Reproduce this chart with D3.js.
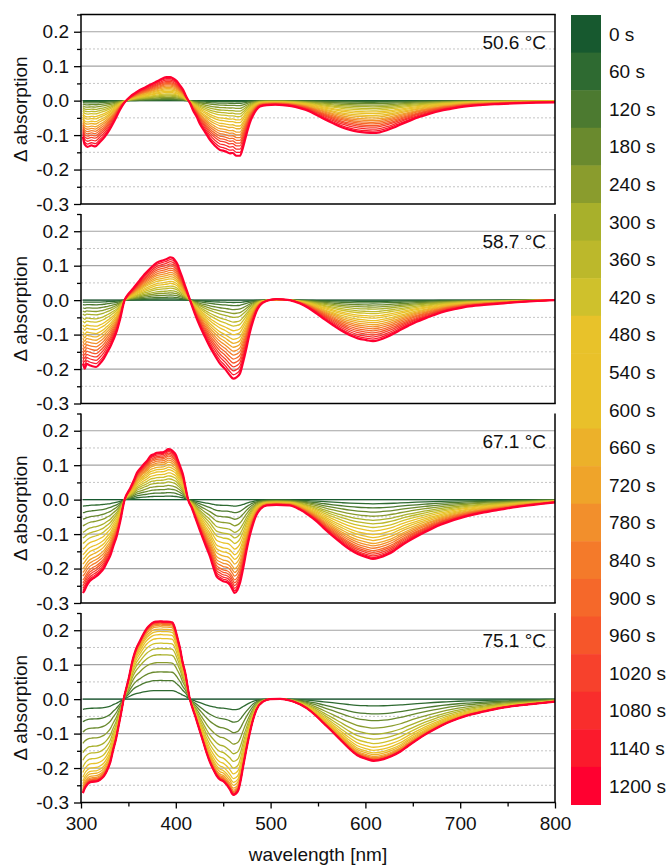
<!DOCTYPE html>
<html>
<head>
<meta charset="utf-8">
<script src="https://cdn.jsdelivr.net/npm/d3@7"></script>
<style>
  html, body { margin: 0; padding: 0; background: #fff; }
  svg { display: block; font-family: "Liberation Sans", Arial, sans-serif; }
</style>
</head>
<body>
<svg id="chart" width="671" height="868"></svg>
<script>
// Time points of the series (one spectrum per minute)
const timeLabels = ["0 s","60 s","120 s","180 s","240 s","300 s","360 s","420 s","480 s","540 s","600 s",
  "660 s","720 s","780 s","840 s","900 s","960 s","1020 s","1080 s","1140 s","1200 s"];
const timeColors = ["#17592f","#2e6a31","#4c7a30","#6a8a2e","#8a9c2d","#a8b02b","#bcb82b","#cfc12c",
  "#e8c22a","#e9c12a","#e9c02a","#ecb12a","#efa42a","#f28f2c","#f47a2a","#f5682a","#f6562a",
  "#f7412c","#f92d2c","#fb1a2c","#ff0030"];

const temperatures = ["50.6 °C", "58.7 °C", "67.1 °C", "75.1 °C"];

// Difference spectra after 1200 s, per temperature: wavelength [nm] and Δ absorption
const wl506 = [302,304,307,311,315,320,325,330,336,341,346,352,357,362,368,373,378,383,390,394,397,401,404,408,411,415,418,422,425.5,431,436,441,446.6,450,453,457,460,464,467.7,471,474.8,478,481.7,485,488.8,495.9,505,513,522,531,540,548.6,557,566,575,583.8,592,601,608,615,622.5,630,636.5,647,657.6,668,678.7,690,700,721,740,756,780,800];
const abs506 = [-0.105,-0.128,-0.134,-0.13,-0.133,-0.12,-0.105,-0.085,-0.055,-0.027,-0.005,0.012,0.022,0.031,0.039,0.046,0.053,0.06,0.068,0.068,0.065,0.057,0.046,0.03,0.012,-0.008,-0.027,-0.047,-0.068,-0.092,-0.114,-0.13,-0.143,-0.145,-0.148,-0.153,-0.152,-0.16,-0.16,-0.135,-0.095,-0.065,-0.042,-0.027,-0.017,-0.013,-0.012,-0.013,-0.016,-0.022,-0.03,-0.042,-0.054,-0.066,-0.077,-0.085,-0.09,-0.093,-0.094,-0.092,-0.086,-0.078,-0.07,-0.058,-0.047,-0.038,-0.03,-0.024,-0.019,-0.013,-0.01,-0.008,-0.006,-0.005];

const wl587 = [302,304,306,309,312,316,320,324,327,331,334,338,341,346,350,355,362,367,373,380,387,391,394,397,399,402,404,407,409,412,415,420,425.5,431,436,441,446.6,452,457,460.7,464,467.7,471,474.8,478,481.8,485,488.8,495.9,506,520,531,540,548.6,557,566,575,583.8,592,601,608,615,622.5,630,636.5,645,654,663,671.7,680,689,698,707,725,742,760,777,800];
const abs587 = [-0.184,-0.199,-0.185,-0.189,-0.192,-0.194,-0.184,-0.17,-0.155,-0.135,-0.116,-0.088,-0.058,0,0.018,0.034,0.058,0.075,0.092,0.109,0.116,0.12,0.124,0.122,0.116,0.103,0.087,0.065,0.048,0.025,0,-0.039,-0.076,-0.108,-0.136,-0.16,-0.184,-0.2,-0.218,-0.228,-0.224,-0.213,-0.18,-0.136,-0.095,-0.058,-0.033,-0.015,-0.002,0.003,0,-0.01,-0.023,-0.039,-0.056,-0.073,-0.089,-0.102,-0.111,-0.116,-0.119,-0.115,-0.107,-0.097,-0.087,-0.075,-0.063,-0.053,-0.044,-0.036,-0.029,-0.024,-0.019,-0.014,-0.01,-0.006,-0.003,0];

const wl671 = [302,304,306,309,312,316,320,324,327,331,334,338,341,346,352,356,359,363,366,370,373,377,380,384,387,390,392,394,397,400,402,405,408,410,413,417,420,425.5,431,436,440,443,447,450,454,457,460,462,465,467.7,471,474.8,478,481.8,485,488.8,495.9,506,520,531,540,548.6,557,566,575,583.8,592,601,608,615,622.5,630,636.5,645,654,663,671.7,680,689,698,707,725,742,760,777,790,800];
const abs671 = [-0.271,-0.262,-0.25,-0.237,-0.23,-0.223,-0.213,-0.2,-0.184,-0.162,-0.136,-0.103,-0.068,0,0.034,0.058,0.078,0.092,0.102,0.114,0.126,0.132,0.136,0.137,0.138,0.143,0.147,0.146,0.14,0.13,0.116,0.094,0.068,0.04,0,-0.025,-0.048,-0.09,-0.13,-0.165,-0.2,-0.223,-0.232,-0.237,-0.24,-0.247,-0.262,-0.271,-0.262,-0.242,-0.2,-0.145,-0.105,-0.068,-0.045,-0.029,-0.017,-0.015,-0.017,-0.029,-0.045,-0.063,-0.085,-0.107,-0.127,-0.145,-0.158,-0.167,-0.172,-0.168,-0.16,-0.149,-0.136,-0.121,-0.107,-0.094,-0.082,-0.072,-0.063,-0.055,-0.048,-0.037,-0.029,-0.021,-0.015,-0.011,-0.008];

const wl751 = [302,304,306,309,312,316,320,324,327,331,334,337,339.5,342,345,350,355,358,362,366,369.6,373,376.6,380,383.7,387,390.7,394,396,398,399.5,402,404.8,407,410,414.6,420.6,425.5,429,432.6,436,439.7,443,446.7,450,453.7,457,460.7,463,466,468.5,471,474.5,478,481.5,485,492,499.5,510,524,538,547,556,565,573.6,582,591,601.7,608.7,619.3,628,637,645,654.5,663,672,681,689.7,698,707,725,742,760,777.5,790,800];
const abs751 = [-0.273,-0.259,-0.25,-0.242,-0.24,-0.239,-0.234,-0.224,-0.21,-0.182,-0.147,-0.115,-0.08,-0.045,0,0.056,0.119,0.145,0.168,0.19,0.206,0.216,0.223,0.225,0.226,0.225,0.225,0.224,0.223,0.215,0.202,0.175,0.143,0.11,0.076,0.003,-0.05,-0.094,-0.125,-0.157,-0.183,-0.205,-0.222,-0.234,-0.238,-0.249,-0.262,-0.278,-0.275,-0.264,-0.235,-0.196,-0.145,-0.099,-0.06,-0.031,-0.007,0,0.001,-0.007,-0.026,-0.046,-0.07,-0.094,-0.118,-0.141,-0.162,-0.174,-0.179,-0.174,-0.165,-0.152,-0.136,-0.118,-0.103,-0.089,-0.076,-0.065,-0.056,-0.048,-0.036,-0.026,-0.019,-0.014,-0.01,-0.007];

// Fraction of the 1200 s difference spectrum reached at each time point
const progress506 = [0,0.02,0.05,0.09,0.14,0.19,0.24,0.29,0.35,0.40,0.46,0.51,0.57,0.62,0.67,0.72,0.77,0.82,0.88,0.94,1];
const progress587 = [0,0.03,0.07,0.12,0.17,0.22,0.28,0.33,0.39,0.44,0.50,0.55,0.60,0.65,0.70,0.75,0.80,0.85,0.90,0.95,1];
const progress671 = [0,0.07,0.14,0.21,0.28,0.35,0.41,0.47,0.53,0.59,0.64,0.69,0.74,0.78,0.82,0.86,0.89,0.92,0.95,0.975,1];
const progress751 = [0,0.11,0.24,0.35,0.47,0.57,0.65,0.72,0.78,0.83,0.87,0.90,0.93,0.95,0.965,0.975,0.985,0.99,0.995,0.998,1];

const yMajor = [0.2, 0.1, 0.0, -0.1, -0.2, -0.3];
const yMinor = [0.25, 0.15, 0.05, -0.05, -0.15, -0.25];
const xMajor = [300, 400, 500, 600, 700, 800];
const xMinor = [350, 450, 550, 650, 750];

const panels = [
  { label: temperatures[0], wl: wl506, abs: abs506, progress: progress506 },
  { label: temperatures[1], wl: wl587, abs: abs587, progress: progress587 },
  { label: temperatures[2], wl: wl671, abs: abs671, progress: progress671 },
  { label: temperatures[3], wl: wl751, abs: abs751, progress: progress751 }
];

const svg = d3.select("#chart");
const left = 81, right = 555;
const panelTop0 = 14.5, panelStep = 199.5, panelH = 189.5;
const fontSize = 19;
const fontFamily = "Liberation Sans, Arial, sans-serif";
const fmt1 = d => d.toFixed(1);

const x = d3.scaleLinear().domain([300, 800]).range([left, right]);

panels.forEach((p, i) => {
  const top = panelTop0 + i * panelStep;
  const bottom = top + panelH;
  const y = d3.scaleLinear().domain([-0.3, 0.25]).range([bottom, top]);
  const g = svg.append("g");

  // grid
  g.selectAll(".gmin").data(yMinor.filter(v => v > -0.3 && v < 0.25)).join("line")
    .attr("x1", left).attr("x2", right)
    .attr("y1", d => y(d)).attr("y2", d => y(d))
    .attr("stroke", "#c4c4c4").attr("stroke-width", 1).attr("stroke-dasharray", "2,2");
  g.selectAll(".gmaj").data(yMajor.filter(v => v > -0.3)).join("line")
    .attr("x1", left).attr("x2", right)
    .attr("y1", d => y(d)).attr("y2", d => y(d))
    .attr("stroke", "#a3a3a3").attr("stroke-width", 1.2);

  // spectra, oldest first so the 1200 s trace ends on top
  const pts = p.wl.map((w, k) => [w, p.abs[k]]);
  const line = d3.line()
    .x(d => x(d[0]))
    .curve(d3.curveMonotoneX);
  const clipId = "clip" + i;
  svg.append("clipPath").attr("id", clipId).append("rect")
    .attr("x", left).attr("y", top).attr("width", right - left).attr("height", panelH);
  const curves = g.append("g").attr("clip-path", `url(#${clipId})`);
  p.progress.forEach((f, t) => {
    curves.append("path")
      .attr("d", line.y(d => y(d[1] * f))(pts))
      .attr("fill", "none")
      .attr("stroke", timeColors[t])
      .attr("stroke-width", t === p.progress.length - 1 ? 2.2 : 1.3)
      .attr("stroke-linejoin", "round");
  });

  // frame
  const frame = g.append("g").attr("stroke", "#000").attr("stroke-width", 1.5).attr("fill", "none");
  frame.append("line").attr("x1", left).attr("x2", left).attr("y1", top).attr("y2", bottom);
  frame.append("line").attr("x1", right).attr("x2", right).attr("y1", top).attr("y2", bottom);
  frame.append("line").attr("x1", left - 0.75).attr("x2", right + 0.75).attr("y1", bottom).attr("y2", bottom);
  if (i === 0) frame.append("line").attr("x1", left - 0.75).attr("x2", right + 0.75).attr("y1", top).attr("y2", top);

  // y axis
  const yAxis = d3.axisLeft(y).tickValues(yMajor).tickSize(7).tickPadding(5).tickFormat(fmt1);
  const ya = g.append("g").attr("transform", `translate(${left},0)`).call(yAxis);
  ya.select(".domain").remove();
  ya.selectAll(".tick line").attr("stroke-width", 1.3);
  ya.selectAll(".tick text").attr("font-size", fontSize).attr("font-family", fontFamily).attr("fill", "#111");
  const yMinAxis = d3.axisLeft(y).tickValues(yMinor).tickSize(4).tickFormat("");
  const ym = g.append("g").attr("transform", `translate(${left},0)`).call(yMinAxis);
  ym.select(".domain").remove();
  ym.selectAll(".tick line").attr("stroke-width", 1.3);

  g.append("text")
    .attr("transform", `translate(27,${(top + bottom) / 2}) rotate(-90)`)
    .attr("text-anchor", "middle").attr("font-size", fontSize).attr("fill", "#111")
    .text("Δ absorption");

  g.append("text")
    .attr("x", 546).attr("y", top + 34)
    .attr("text-anchor", "end").attr("font-size", fontSize).attr("fill", "#111")
    .text(p.label);

  if (i === panels.length - 1) {
    const xAxis = d3.axisBottom(x).tickValues(xMajor).tickSize(6).tickPadding(8).tickFormat(d3.format("d"));
    const xa = g.append("g").attr("transform", `translate(0,${bottom})`).call(xAxis);
    xa.select(".domain").remove();
    xa.selectAll(".tick line").attr("stroke-width", 1.3);
    xa.selectAll(".tick text").attr("font-size", fontSize).attr("font-family", fontFamily).attr("fill", "#111");
    const xMinAxis = d3.axisBottom(x).tickValues(xMinor).tickSize(4).tickFormat("");
    const xm = g.append("g").attr("transform", `translate(0,${bottom})`).call(xMinAxis);
    xm.select(".domain").remove();
    xm.selectAll(".tick line").attr("stroke-width", 1.3);

    g.append("text")
      .attr("x", (left + right) / 2).attr("y", 861)
      .attr("text-anchor", "middle").attr("font-size", fontSize).attr("fill", "#111")
      .text("wavelength [nm]");
  }
});

// colour legend for the time points
const legTop = 15, legBottom = 804.5;
const band = d3.scaleBand().domain(timeLabels).range([legTop, legBottom]).padding(0);
const leg = svg.append("g");
leg.selectAll("rect").data(timeLabels).join("rect")
  .attr("x", 571).attr("width", 30)
  .attr("y", d => band(d)).attr("height", band.bandwidth() + 0.5)
  .attr("fill", (d, k) => timeColors[k]);
leg.selectAll("text").data(timeLabels).join("text")
  .attr("x", 609).attr("y", d => band(d) + band.bandwidth() / 2)
  .attr("dy", "0.36em").attr("font-size", fontSize).attr("fill", "#111")
  .text(d => d);
</script>
</body>
</html>
